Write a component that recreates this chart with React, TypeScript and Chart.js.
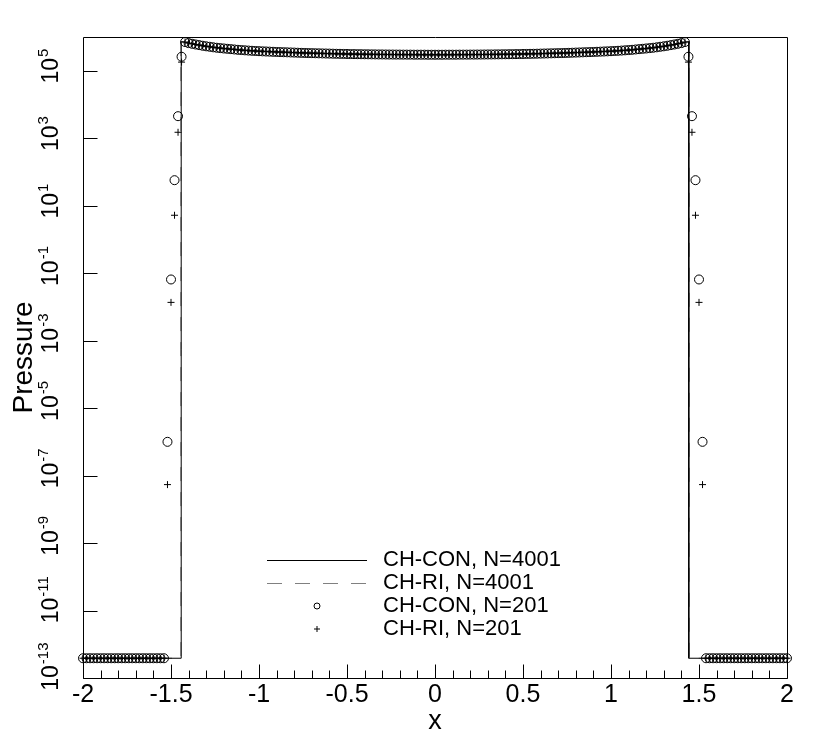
import React, { useEffect, useRef } from "react";
import { Chart, registerables } from "chart.js";

Chart.register(...registerables);

const W = 830;
const H = 739;
const FONT = '"Liberation Sans", Arial, Helvetica, sans-serif';

// ---- grid of the N=201 solutions ----
const x201 = [
  -2, -1.98, -1.96, -1.94, -1.92, -1.9, -1.88, -1.86, -1.84, -1.82,
  -1.8, -1.78, -1.76, -1.74, -1.72, -1.7, -1.68, -1.66, -1.64, -1.62,
  -1.6, -1.58, -1.56, -1.54, -1.52, -1.5, -1.48, -1.46, -1.44, -1.42,
  -1.4, -1.38, -1.36, -1.34, -1.32, -1.3, -1.28, -1.26, -1.24, -1.22,
  -1.2, -1.18, -1.16, -1.14, -1.12, -1.1, -1.08, -1.06, -1.04, -1.02,
  -1, -0.98, -0.96, -0.94, -0.92, -0.9, -0.88, -0.86, -0.84, -0.82,
  -0.8, -0.78, -0.76, -0.74, -0.72, -0.7, -0.68, -0.66, -0.64, -0.62,
  -0.6, -0.58, -0.56, -0.54, -0.52, -0.5, -0.48, -0.46, -0.44, -0.42,
  -0.4, -0.38, -0.36, -0.34, -0.32, -0.3, -0.28, -0.26, -0.24, -0.22,
  -0.2, -0.18, -0.16, -0.14, -0.12, -0.1, -0.08, -0.06, -0.04, -0.02,
  0,
  0.02, 0.04, 0.06, 0.08, 0.1, 0.12, 0.14, 0.16, 0.18, 0.2,
  0.22, 0.24, 0.26, 0.28, 0.3, 0.32, 0.34, 0.36, 0.38, 0.4,
  0.42, 0.44, 0.46, 0.48, 0.5, 0.52, 0.54, 0.56, 0.58, 0.6,
  0.62, 0.64, 0.66, 0.68, 0.7, 0.72, 0.74, 0.76, 0.78, 0.8,
  0.82, 0.84, 0.86, 0.88, 0.9, 0.92, 0.94, 0.96, 0.98, 1,
  1.02, 1.04, 1.06, 1.08, 1.1, 1.12, 1.14, 1.16, 1.18, 1.2,
  1.22, 1.24, 1.26, 1.28, 1.3, 1.32, 1.34, 1.36, 1.38, 1.4,
  1.42, 1.44, 1.46, 1.48, 1.5, 1.52, 1.54, 1.56, 1.58, 1.6,
  1.62, 1.64, 1.66, 1.68, 1.7, 1.72, 1.74, 1.76, 1.78, 1.8,
  1.82, 1.84, 1.86, 1.88, 1.9, 1.92, 1.94, 1.96, 1.98, 2,
];

// undisturbed state, x = -2 ... -1.54 and 1.54 ... 2
const lowLeft = [
  3.85e-13, 3.85e-13, 3.85e-13, 3.85e-13, 3.85e-13, 3.85e-13, 3.85e-13, 3.85e-13,
  3.85e-13, 3.85e-13, 3.85e-13, 3.85e-13, 3.85e-13, 3.85e-13, 3.85e-13, 3.85e-13,
  3.85e-13, 3.85e-13, 3.85e-13, 3.85e-13, 3.85e-13, 3.85e-13, 3.85e-13, 3.85e-13,
];
const lowRight = [
  3.85e-13, 3.85e-13, 3.85e-13, 3.85e-13, 3.85e-13, 3.85e-13, 3.85e-13, 3.85e-13,
  3.85e-13, 3.85e-13, 3.85e-13, 3.85e-13, 3.85e-13, 3.85e-13, 3.85e-13, 3.85e-13,
  3.85e-13, 3.85e-13, 3.85e-13, 3.85e-13, 3.85e-13, 3.85e-13, 3.85e-13, 3.85e-13,
];

// shock front, x = -1.52 ... -1.44 and 1.44 ... 1.52
const conRiseLeft = [1e-6, 0.065, 57, 4500, 2.6e5];
const conRiseRight = [2.6e5, 4500, 57, 0.065, 1e-6];
const riRiseLeft = [5.4e-8, 0.0136, 5.2, 1500, 1.8e5];
const riRiseRight = [1.8e5, 1500, 5.2, 0.0136, 5.4e-8];

// shocked region, x = -1.42 ... 1.42
const plateau = [
  7.1e5,
  6.6e5, 6.3e5, 6.0e5, 5.75e5, 5.5e5, 5.3e5, 5.13e5, 4.95e5, 4.8e5, 4.68e5,
  4.57e5, 4.47e5, 4.37e5, 4.27e5, 4.17e5, 4.1e5, 4.03e5, 3.96e5, 3.9e5, 3.85e5,
  3.8e5, 3.76e5, 3.72e5, 3.68e5, 3.64e5, 3.6e5, 3.57e5, 3.54e5, 3.51e5, 3.48e5,
  3.45e5, 3.42e5, 3.39e5, 3.36e5, 3.34e5, 3.32e5, 3.3e5, 3.28e5, 3.26e5, 3.24e5,
  3.22e5, 3.2e5, 3.18e5, 3.17e5, 3.15e5, 3.14e5, 3.12e5, 3.11e5, 3.1e5, 3.09e5,
  3.08e5, 3.07e5, 3.06e5, 3.05e5, 3.04e5, 3.04e5, 3.03e5, 3.02e5, 3.02e5, 3.01e5,
  3.01e5, 3.0e5, 3.0e5, 3.0e5, 2.99e5, 2.99e5, 2.99e5, 2.99e5, 2.98e5, 2.98e5,
  2.98e5,
  2.98e5, 2.98e5, 2.99e5, 2.99e5, 2.99e5, 2.99e5, 3.0e5, 3.0e5, 3.0e5, 3.01e5,
  3.01e5, 3.02e5, 3.02e5, 3.03e5, 3.04e5, 3.04e5, 3.05e5, 3.06e5, 3.07e5, 3.08e5,
  3.09e5, 3.1e5, 3.11e5, 3.12e5, 3.14e5, 3.15e5, 3.17e5, 3.18e5, 3.2e5, 3.22e5,
  3.24e5, 3.26e5, 3.28e5, 3.3e5, 3.32e5, 3.34e5, 3.36e5, 3.39e5, 3.42e5, 3.45e5,
  3.48e5, 3.51e5, 3.54e5, 3.57e5, 3.6e5, 3.64e5, 3.68e5, 3.72e5, 3.76e5, 3.8e5,
  3.85e5, 3.9e5, 3.96e5, 4.03e5, 4.1e5, 4.17e5, 4.27e5, 4.37e5, 4.47e5, 4.57e5,
  4.68e5, 4.8e5, 4.95e5, 5.13e5, 5.3e5, 5.5e5, 5.75e5, 6.0e5, 6.3e5, 6.6e5,
  7.1e5,
];

const con201 = [...lowLeft, ...conRiseLeft, ...plateau, ...conRiseRight, ...lowRight];
const ri201 = [...lowLeft, ...riRiseLeft, ...plateau, ...riRiseRight, ...lowRight];

// fine-grid (N=4001) reference solutions
const lineConX = [
  -2, -1.442, -1.442, -1.42, -1.4, -1.35, -1.3, -1.2, -1.1, -1.0, -0.8, -0.6, -0.4, -0.2, 0,
  0.2, 0.4, 0.6, 0.8, 1.0, 1.1, 1.2, 1.3, 1.35, 1.4, 1.42, 1.442, 1.442, 2,
];
const lineConY = [
  3.85e-13, 3.85e-13, 7.3e5, 7.0e5, 6.6e5, 5.9e5, 5.3e5, 4.57e5, 4.07e5, 3.8e5, 3.45e5, 3.22e5, 3.08e5, 3.01e5, 2.98e5,
  3.01e5, 3.08e5, 3.22e5, 3.45e5, 3.8e5, 4.07e5, 4.57e5, 5.3e5, 5.9e5, 6.6e5, 7.0e5, 7.3e5, 3.85e-13, 3.85e-13,
];
const lineRiX = [
  -2, -1.444, -1.444, -1.42, -1.4, -1.35, -1.3, -1.2, -1.1, -1.0, -0.8, -0.6, -0.4, -0.2, 0,
  0.2, 0.4, 0.6, 0.8, 1.0, 1.1, 1.2, 1.3, 1.35, 1.4, 1.42, 1.444, 1.444, 2,
];
const lineRiY = [
  3.85e-13, 3.85e-13, 7.2e5, 7.0e5, 6.6e5, 5.9e5, 5.3e5, 4.57e5, 4.07e5, 3.8e5, 3.45e5, 3.22e5, 3.08e5, 3.01e5, 2.98e5,
  3.01e5, 3.08e5, 3.22e5, 3.45e5, 3.8e5, 4.07e5, 4.57e5, 5.3e5, 5.9e5, 6.6e5, 7.0e5, 7.2e5, 3.85e-13, 3.85e-13,
];

// axes
const xMajorTicks = [-2, -1.5, -1, -0.5, 0, 0.5, 1, 1.5, 2];
const xTickLabels = ["-2", "-1.5", "-1", "-0.5", "0", "0.5", "1", "1.5", "2"];
const xMinorTicks = [
  -1.9, -1.8, -1.7, -1.6, -1.4, -1.3, -1.2, -1.1, -0.9, -0.8, -0.7, -0.6, -0.4, -0.3, -0.2, -0.1,
  0.1, 0.2, 0.3, 0.4, 0.6, 0.7, 0.8, 0.9, 1.1, 1.2, 1.3, 1.4, 1.6, 1.7, 1.8, 1.9,
];
const yTickExponents = [5, 3, 1, -1, -3, -5, -7, -9, -11, -13];
const legendLabels = ["CH-CON, N=4001", "CH-RI, N=4001", "CH-CON, N=201", "CH-RI, N=201"];

const toPts = (xs: number[], ys: number[]) => xs.map((x, i) => ({ x, y: ys[i] }));

const decor = {
  id: "decor",
  beforeDraw(chart: any) {
    const ctx = chart.ctx;
    ctx.save();
    ctx.fillStyle = "#fff";
    ctx.fillRect(0, 0, chart.width, chart.height);
    ctx.restore();
  },
  afterDraw(chart: any) {
    const { ctx, chartArea: a } = chart;
    const xs = chart.scales.x;
    const ys = chart.scales.y;
    ctx.save();
    ctx.strokeStyle = "#000";
    ctx.fillStyle = "#000";
    ctx.lineWidth = 1;
    const L = Math.round(a.left) + 0.5;
    const R = Math.round(a.right) + 0.5;
    const T = Math.round(a.top) + 0.5;
    const B = Math.round(a.bottom) + 0.5;
    ctx.beginPath();
    ctx.moveTo(L, T);
    ctx.lineTo(R, T);
    ctx.lineTo(R, B);
    ctx.lineTo(L, B);
    ctx.closePath();
    ctx.stroke();

    // x ticks (inward)
    ctx.beginPath();
    for (const v of xMajorTicks) {
      const px = Math.round(xs.getPixelForValue(v)) + 0.5;
      ctx.moveTo(px, B);
      ctx.lineTo(px, B - 14);
    }
    for (const v of xMinorTicks) {
      const px = Math.round(xs.getPixelForValue(v)) + 0.5;
      ctx.moveTo(px, B);
      ctx.lineTo(px, B - 8);
    }
    // y ticks
    for (const e of yTickExponents) {
      const py = Math.round(ys.getPixelForValue(Math.pow(10, e))) + 0.5;
      ctx.moveTo(L, py);
      ctx.lineTo(L + 14, py);
    }
    ctx.stroke();

    // x tick labels
    ctx.font = `25px ${FONT}`;
    ctx.textAlign = "center";
    ctx.textBaseline = "alphabetic";
    xMajorTicks.forEach((v, i) => {
      ctx.fillText(xTickLabels[i], xs.getPixelForValue(v), 702);
    });

    // y tick labels (rotated, with superscript exponent)
    for (const e of yTickExponents) {
      const py = ys.getPixelForValue(Math.pow(10, e));
      ctx.save();
      ctx.translate(58, py);
      ctx.rotate(-Math.PI / 2);
      ctx.font = `23px ${FONT}`;
      ctx.textAlign = "left";
      const w10 = ctx.measureText("10").width;
      ctx.fillText("10", -w10 / 2, 0);
      ctx.font = `15px ${FONT}`;
      ctx.fillText(String(e), w10 / 2 + 1, -10);
      ctx.restore();
    }

    // axis titles
    ctx.font = `27px ${FONT}`;
    ctx.textAlign = "center";
    ctx.fillText("x", (a.left + a.right) / 2, 729);
    ctx.save();
    ctx.translate(32, (a.top + a.bottom) / 2);
    ctx.rotate(-Math.PI / 2);
    ctx.font = `28px ${FONT}`;
    ctx.fillText("Pressure", 0, 0);
    ctx.restore();

    // legend
    const rows = [560, 583, 606, 629];
    ctx.font = `22px ${FONT}`;
    ctx.textAlign = "left";
    ctx.textBaseline = "middle";
    legendLabels.forEach((t, i) => ctx.fillText(t, 383, rows[i]));
    ctx.lineWidth = 1;
    ctx.strokeStyle = "#000";
    ctx.beginPath();
    ctx.moveTo(267, Math.round(rows[0]) + 0.5);
    ctx.lineTo(367, Math.round(rows[0]) + 0.5);
    ctx.stroke();
    ctx.strokeStyle = "#808080";
    ctx.setLineDash([15, 13]);
    ctx.beginPath();
    ctx.moveTo(267, Math.round(rows[1]) + 0.5);
    ctx.lineTo(367, Math.round(rows[1]) + 0.5);
    ctx.stroke();
    ctx.setLineDash([]);
    ctx.strokeStyle = "#000";
    ctx.beginPath();
    ctx.arc(317, rows[2], 3, 0, Math.PI * 2);
    ctx.stroke();
    ctx.beginPath();
    ctx.moveTo(314, rows[3]);
    ctx.lineTo(320, rows[3]);
    ctx.moveTo(317, rows[3] - 3);
    ctx.lineTo(317, rows[3] + 3);
    ctx.stroke();
    ctx.restore();
  },
};

export default function App() {
  const ref = useRef<HTMLCanvasElement>(null);
  useEffect(() => {
    document.body.style.margin = "0";
    const canvas = ref.current as HTMLCanvasElement;
    const chart = new Chart(canvas, {
      type: "scatter",
      data: {
        datasets: [
          {
            label: legendLabels[2],
            data: toPts(x201, con201),
            pointStyle: "circle",
            pointRadius: 4.5,
            borderWidth: 1,
            borderColor: "#000",
            backgroundColor: "rgba(0,0,0,0)",
            showLine: false,
            clip: false,
            order: 1,
          } as any,
          {
            label: legendLabels[3],
            data: toPts(x201, ri201),
            pointStyle: "cross",
            pointRadius: 3.5,
            borderWidth: 1,
            borderColor: "#000",
            backgroundColor: "#000",
            showLine: false,
            clip: false,
            order: 0,
          } as any,
          {
            label: legendLabels[1],
            data: toPts(lineRiX, lineRiY),
            showLine: true,
            pointRadius: 0,
            borderWidth: 1,
            borderColor: "#808080",
            borderDash: [14, 11],
            clip: false,
            order: 3,
          } as any,
          {
            label: legendLabels[0],
            data: toPts(lineConX, lineConY),
            showLine: true,
            pointRadius: 0,
            borderWidth: 1,
            borderColor: "#000",
            clip: false,
            order: 2,
          } as any,
        ],
      },
      options: {
        responsive: false,
        animation: false,
        events: [],
        layout: { padding: { left: 83, right: 43, top: 37, bottom: 61 } },
        plugins: { legend: { display: false }, tooltip: { enabled: false } },
        scales: {
          x: { type: "linear", min: -2, max: 2, display: false },
          y: { type: "logarithmic", min: 1e-13, max: 1e6, display: false },
        },
      },
      plugins: [decor],
    } as any);
    return () => chart.destroy();
  }, []);
  return (
    <div style={{ width: W, height: H, background: "#fff" }}>
      <canvas ref={ref} width={W} height={H} style={{ display: "block", width: W, height: H }} />
    </div>
  );
}
